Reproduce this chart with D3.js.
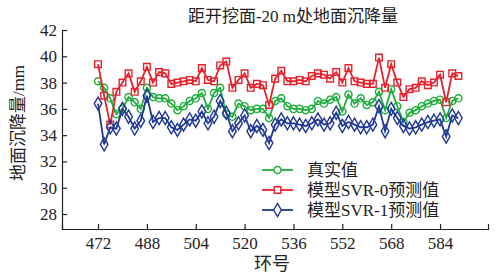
<!DOCTYPE html>
<html>
<head>
<meta charset="utf-8">
<script src="https://cdn.jsdelivr.net/npm/d3@7"></script>
<style>
  body { margin: 0; background: #fff; }
  text { font-family: "Liberation Serif", "Times New Roman", "Noto Sans CJK SC", serif; fill: #222; }
  .axis path, .axis line { stroke: #222; stroke-width: 1.2; }
  .axis text { font-size: 17px; }
</style>
</head>
<body>
<div id="chart"></div>
<script>
// rings (环号), every 2 rings
const rings = [472,474,476,478,480,482,484,486,488,490,492,494,
  496,498,500,502,504,506,508,510,512,514,516,518,
  520,522,524,526,528,530,532,534,536,538,540,542,
  544,546,548,550,552,554,556,558,560,562,564,566,
  568,570,572,574,576,578,580,582,584,586,588,590]

const actual = [38.1,37.6,36.8,35.6,36.0,36.9,36.5,36.0,37.6,36.9,36.8,36.8,
  36.4,35.9,36.2,36.6,36.8,37.2,36.0,37.2,37.6,35.6,35.4,36.4,
  36.2,35.9,36.0,36.0,35.3,36.6,36.8,36.2,36.0,36.0,35.9,36.0,
  36.6,36.4,36.7,36.9,35.8,37.1,36.4,36.8,36.3,36.5,37.3,35.9,
  37.5,36.2,35.0,35.7,35.9,36.2,36.4,36.6,36.7,35.3,36.6,36.8]

const svr0 = [39.4,37.0,34.8,37.3,38.0,38.7,37.3,38.1,39.2,38.0,38.8,38.7,
  37.9,38.0,38.1,38.2,38.1,39.1,38.2,38.1,39.3,39.6,37.6,38.2,
  38.7,37.6,37.9,37.8,36.3,38.3,38.9,38.1,38.1,38.2,38.1,38.5,
  38.7,38.6,38.3,38.8,38.0,39.1,38.1,38.0,37.9,37.9,39.9,37.6,
  39.4,38.0,36.9,37.5,37.6,38.1,37.8,38.0,38.6,36.5,38.7,38.5]

const svr1 = [36.4,33.3,34.6,34.5,36.0,35.4,34.5,35.1,37.0,35.0,35.3,35.3,
  34.6,34.4,34.8,35.2,35.1,35.8,34.9,35.4,36.6,35.7,34.3,34.9,
  35.5,34.3,34.7,34.4,33.4,34.8,35.2,34.9,34.9,34.8,34.7,34.9,
  35.2,34.8,34.9,35.7,34.7,35.0,34.8,34.6,34.6,34.8,36.2,34.3,
  36.0,35.3,34.7,34.5,34.6,34.8,35.0,35.1,35.2,33.9,35.5,35.3]

const xTicks = [472,488,504,520,536,552,568,584]
const yTicks = [28,30,32,34,36,38,40,42]
const seriesNames = ["真实值", "模型SVR-0预测值", "模型SVR-1预测值"]
const colors = ["#1fae3c", "#e8212b", "#1f3897"]
const symbols = [d3.symbolCircle, d3.symbolSquare, d3.symbolDiamond]
const symbolSizes = [40, 44, 50]

const width = 497, height = 276
const margin = { top: 30, right: 9, bottom: 47, left: 62 }
const w = width - margin.left - margin.right
const h = height - margin.top - margin.bottom

const svg = d3.select("#chart").append("svg")
  .attr("width", width)
  .attr("height", height)

const g = svg.append("g")
  .attr("transform", "translate(" + margin.left + "," + margin.top + ")")

const x = d3.scaleLinear().domain([460.2, 599.7]).range([0, w])
const y = d3.scaleLinear().domain([26.86, 42]).range([h, 0])

g.append("g")
  .attr("class", "axis")
  .attr("transform", "translate(0," + h + ")")
  .call(d3.axisBottom(x).tickValues(xTicks).tickSizeInner(-5).tickSizeOuter(-5).tickPadding(8))

g.append("g")
  .attr("class", "axis")
  .call(d3.axisLeft(y).tickValues(yTicks).tickSizeInner(-5).tickSizeOuter(-5).tickPadding(5))

const allSeries = [actual, svr0, svr1]

allSeries.forEach((vals, k) => {
  const pts = rings.map((r, i) => ({ r: r, v: vals[i] }))
  const line = d3.line().x(d => x(d.r)).y(d => y(d.v))
  g.append("path")
    .datum(pts)
    .attr("d", line)
    .attr("fill", "none")
    .attr("stroke", colors[k])
    .attr("stroke-width", 1.8)
  g.selectAll(".m" + k)
    .data(pts)
    .enter().append("path")
    .attr("class", "m" + k)
    .attr("transform", d => "translate(" + x(d.r) + "," + y(d.v) + ")")
    .attr("d", d3.symbol().type(symbols[k]).size(symbolSizes[k]))
    .attr("fill", "none")
    .attr("stroke", colors[k])
    .attr("stroke-width", 1.4)
})

// legend
const legend = g.append("g").attr("transform", "translate(200,140)")
seriesNames.forEach((name, k) => {
  const row = legend.append("g").attr("transform", "translate(0," + (k * 20) + ")")
  row.append("line")
    .attr("x1", 0).attr("x2", 31)
    .attr("stroke", colors[k]).attr("stroke-width", 1.8)
  row.append("path")
    .attr("transform", "translate(15.5,0)")
    .attr("d", d3.symbol().type(symbols[k]).size(symbolSizes[k]))
    .attr("fill", "#fff")
    .attr("stroke", colors[k])
    .attr("stroke-width", 1.4)
  row.append("text")
    .attr("x", 45).attr("dy", "0.36em")
    .style("font-size", "17px")
    .text(name)
})

svg.append("text")
  .attr("x", 293).attr("y", 22)
  .attr("text-anchor", "middle")
  .style("font-size", "17px")
  .text("距开挖面-20 m处地面沉降量")

svg.append("text")
  .attr("x", 272).attr("y", 270)
  .attr("text-anchor", "middle")
  .style("font-size", "18px")
  .text("环号")

svg.append("text")
  .attr("transform", "translate(24,123) rotate(-90)")
  .attr("text-anchor", "middle")
  .style("font-size", "17px")
  .text("地面沉降量/mm")
</script>
</body>
</html>
